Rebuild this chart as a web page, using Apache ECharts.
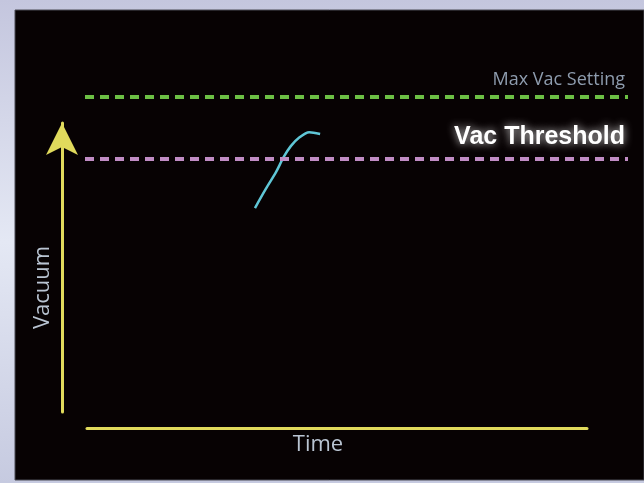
<!DOCTYPE html>
<html>
<head>
<meta charset="utf-8">
<script src="https://cdn.jsdelivr.net/npm/echarts@6/dist/echarts.min.js"></script>
<style>
html,body{margin:0;padding:0;background:#c8cce2;}
#chart{width:644px;height:483px;}
</style>
</head>
<body>
<div id="chart"></div>
<script>
// Data
const timeValues = [31.3, 33.3, 35.2, 36.6, 37.9, 39.4, 41.3, 43.3];
const vacuumValues = [63.2, 68.7, 73.6, 77.9, 81.0, 83.4, 85.0, 84.5];
const maxVacSetting = 95.1;
const vacThreshold = 77.3;
const xAxisName = 'Time';
const yAxisName = 'Vacuum';
const maxVacLabel = 'Max Vac Setting';
const thresholdLabel = 'Vac Threshold';

const curveData = timeValues.map((t, i) => [t, vacuumValues[i]]);

const axisYellow = '#e0da5c';
const chart = echarts.init(document.getElementById('chart'));
chart.setOption({
  backgroundColor: {
    type: 'linear', x: 0, y: 0, x2: 0, y2: 1,
    colorStops: [
      {offset: 0, color: '#c4c6de'},
      {offset: 0.5, color: '#e4e8f4'},
      {offset: 1, color: '#c6cae0'}
    ]
  },
  animation: false,
  graphic: [{
    type: 'rect', z: -10, silent: true,
    shape: {x: 15, y: 10, width: 629, height: 470},
    style: {fill: '#070203', stroke: '#4a4a55', lineWidth: 1}
  }],
  grid: [
    {left: 85, right: 16, top: 80, bottom: 55},
    {left: 87, right: 57, top: 427, bottom: 55},
    {left: 62, width: 1, top: 123, bottom: 71}
  ],
  xAxis: [
    {gridIndex: 0, type: 'value', min: 0, max: 100, show: false},
    {gridIndex: 1, type: 'value', min: 0, max: 100, position: 'bottom',
      axisLine: {show: true, lineStyle: {color: axisYellow, width: 3}},
      axisTick: {show: false}, axisLabel: {show: false}, splitLine: {show: false},
      name: xAxisName, nameLocation: 'middle', nameGap: 6,
      nameTextStyle: {color: '#b9c4d2', fontSize: 22, fontFamily: 'Open Sans', padding: [0, 38, 0, 0]}
    },
    {gridIndex: 2, type: 'value', min: 0, max: 100, show: false}
  ],
  yAxis: [
    {gridIndex: 0, type: 'value', min: 0, max: 100, show: false},
    {gridIndex: 1, type: 'value', min: 0, max: 100, show: false},
    {gridIndex: 2, type: 'value', min: 0, max: 100, position: 'left',
      axisLine: {show: true, symbol: ['none', 'arrow'], symbolSize: [24, 32],
        lineStyle: {color: axisYellow, width: 3}},
      axisTick: {show: false}, axisLabel: {show: false}, splitLine: {show: false},
      name: yAxisName, nameLocation: 'middle', nameGap: 8, nameRotate: 90,
      nameTextStyle: {color: '#b9c4d2', fontSize: 22, fontFamily: 'Open Sans', padding: [0, 40, 0, 0]}
    }
  ],
  series: [{
    type: 'line',
    xAxisIndex: 0, yAxisIndex: 0,
    data: curveData,
    smooth: 0.3,
    showSymbol: false,
    lineStyle: {color: '#5fc6d6', width: 2.5},
    markLine: {
      silent: true,
      symbol: ['none', 'none'],
      data: [
        {yAxis: maxVacSetting,
          lineStyle: {color: '#6cbf44', type: [9, 6], width: 4},
          label: {show: true, position: 'insideEndTop', formatter: maxVacLabel, distance: [3, 8],
            color: '#8e9cae', fontSize: 18, fontFamily: 'Open Sans'}},
        {yAxis: vacThreshold,
          lineStyle: {color: '#c08cc4', type: [9, 6], width: 4},
          label: {show: true, position: 'insideEndTop', formatter: thresholdLabel, distance: [3, 9],
            color: '#ffffff', fontSize: 25, fontWeight: 'bold', fontFamily: 'Liberation Sans',
            textShadowColor: 'rgba(255,255,255,0.85)', textShadowBlur: 8}}
      ]
    }
  }]
});
</script>
</body>
</html>
